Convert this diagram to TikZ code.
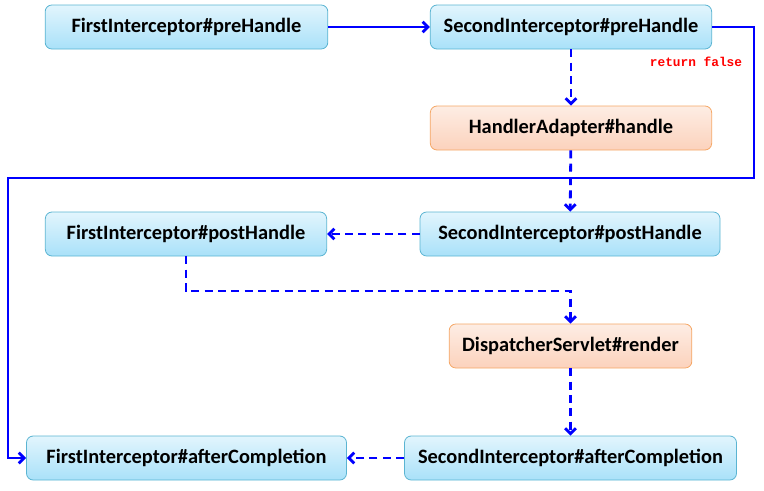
\documentclass[tikz,border=0pt]{standalone}
\usepackage{fontspec}
\setmainfont{Carlito}
\newfontfamily\codefont{Liberation Mono}
\usetikzlibrary{arrows.meta,positioning}

\definecolor{blueTop}{HTML}{E2F5FD}
\definecolor{blueBot}{HTML}{A9E1F9}
\definecolor{blueEdge}{HTML}{5AB4D2}
\definecolor{orangeTop}{HTML}{FDEDE4}
\definecolor{orangeBot}{HTML}{FCD2BC}
\definecolor{orangeEdge}{HTML}{F5A766}
\definecolor{flowBlue}{HTML}{0000FF}

\begin{document}
\begin{tikzpicture}[x=0.75pt,y=-0.75pt,
    box/.style={rectangle, rounded corners=5pt, minimum height=33pt,
      font=\fontsize{15.3}{18}\selectfont\bfseries, line width=0.6pt},
    interceptor/.style={box, draw=blueEdge, top color=blueTop, bottom color=blueBot},
    handler/.style={box, draw=orangeEdge, top color=orangeTop, bottom color=orangeBot},
    flow/.style={draw=flowBlue, line width=2.1pt, -{Straight Barb[length=4pt,width=8pt]}},
    callflow/.style={flow, dash pattern=on 6pt off 4pt}]
    \useasboundingbox (0,0) rectangle (764,490);
    \node[interceptor, minimum width=212pt] (fpre) at (186.5,27) {FirstInterceptor\#preHandle};
    \node[interceptor, minimum width=211pt] (spre) at (571,27) {SecondInterceptor\#preHandle};
    \node[handler, minimum width=211pt] (ha) at (571,128) {HandlerAdapter\#handle};
    \node[interceptor, minimum width=211pt] (fpost) at (186,234) {FirstInterceptor\#postHandle};
    \node[interceptor, minimum width=225pt] (spost) at (570,234) {SecondInterceptor\#postHandle};
    \node[handler, minimum width=182pt] (render) at (570.5,346) {DispatcherServlet\#render};
    \node[interceptor, minimum width=240pt] (fafter) at (186.5,458) {FirstInterceptor\#afterCompletion};
    \node[interceptor, minimum width=249pt] (safter) at (570.5,458) {SecondInterceptor\#afterCompletion};
    \node[text=red, font=\codefont\fontsize{9.6}{11}\selectfont\bfseries] (retfalse) at (696,62) {return false};
    \coordinate (turnR) at (754,178);
    \coordinate (turnL) at (8,178);
    \coordinate (midDown) at (186,291);

    \draw[flow] (fpre) -- (spre);
    \draw[callflow] (spre) -- (ha);
    \draw[flow] (spre.east) -| (turnR) -- (turnL) |- (fafter.west);
    \draw[callflow] (ha) -- (spost);
    \draw[callflow] (spost) -- (fpost);
    \draw[callflow] (fpost.south) -- (midDown) -| (render.north);
    \draw[callflow] (render) -- (safter);
    \draw[callflow] (safter) -- (fafter);
\end{tikzpicture}
\end{document}
